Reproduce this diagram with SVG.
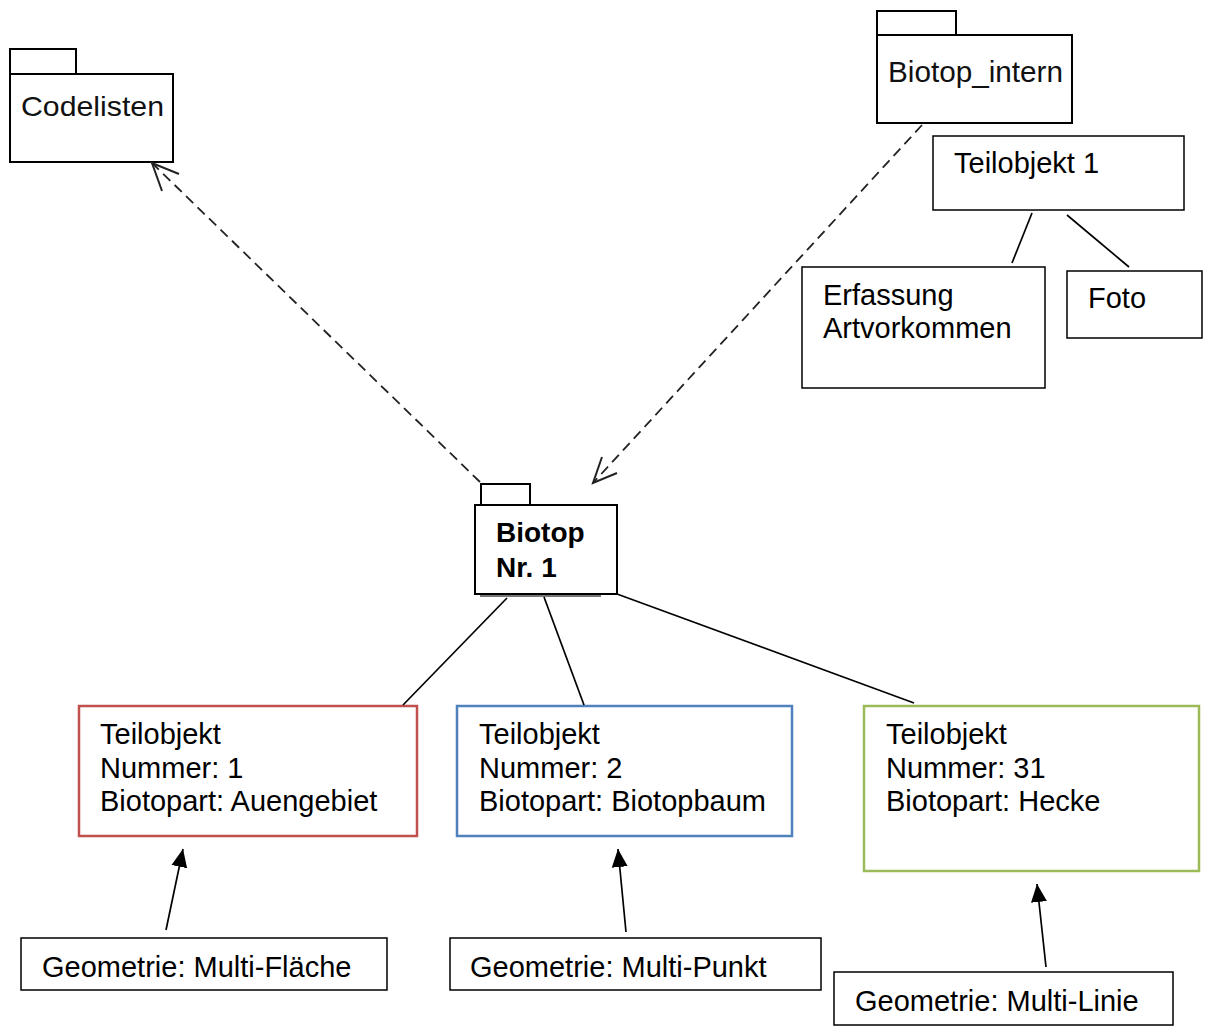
<svg xmlns="http://www.w3.org/2000/svg" width="1208" height="1035" viewBox="0 0 1208 1035">
<defs>
<style>
.box{fill:#fff;stroke:#000;stroke-width:1.5}
.pkg{fill:#fff;stroke:#000;stroke-width:2}
.t{font-family:"Liberation Sans",Arial,sans-serif;font-size:29px;fill:#000}
.b{font-weight:bold;font-size:28px}
.p{font-family:"Liberation Sans",Arial,sans-serif;fill:#111}
.dash{fill:none;stroke:#222;stroke-width:1.8;stroke-dasharray:10 6}
.head{fill:none;stroke:#222;stroke-width:2}
.ln{fill:none;stroke:#000;stroke-width:1.7}
</style>
<marker id="tri" markerUnits="userSpaceOnUse" markerWidth="20" markerHeight="18" refX="18" refY="9" orient="auto">
<path d="M0,1 L18,9 L0,17 Z" fill="#000"/>
</marker>
</defs>
<rect width="1208" height="1035" fill="#fff"/>

<g id="codelisten">
<rect class="pkg" x="10" y="49" width="66" height="25"/>
<rect class="pkg" x="10" y="74" width="163" height="88"/>
<text class="p" x="21" y="116" font-size="28" textLength="143" lengthAdjust="spacingAndGlyphs">Codelisten</text>
</g>

<g id="biotop_intern">
<rect class="pkg" x="877" y="11" width="79" height="24"/>
<rect class="pkg" x="877" y="35" width="195" height="88"/>
<text class="p" x="888" y="82" font-size="30" textLength="175" lengthAdjust="spacingAndGlyphs">Biotop_intern</text>
</g>

<g id="teilobjekt1">
<rect class="box" x="933" y="136" width="251" height="74"/>
<text class="t" x="954" y="173">Teilobjekt 1</text>
</g>

<g id="erfassung">
<rect class="box" x="802" y="267" width="243" height="121"/>
<text class="t" x="823" y="305">Erfassung</text>
<text class="t" x="823" y="338">Artvorkommen</text>
</g>

<g id="foto">
<rect class="box" x="1067" y="271" width="135" height="67"/>
<text class="t" x="1088" y="308">Foto</text>
</g>

<g id="biotop">
<line x1="480" y1="596" x2="601" y2="596" stroke="#777" stroke-width="2"/>
<rect class="pkg" x="481" y="484" width="49" height="21"/>
<rect class="pkg" x="475" y="505" width="142" height="89"/>
<text class="t b" x="496" y="542">Biotop</text>
<text class="t b" x="496" y="577">Nr. 1</text>
</g>

<g id="teil_1">
<rect x="79" y="706" width="338" height="130" fill="#fff" stroke="#c0504d" stroke-width="2.5"/>
<text class="t" x="100" y="744">Teilobjekt</text>
<text class="t" x="100" y="778">Nummer: 1</text>
<text class="t" x="100" y="811">Biotopart: Auengebiet</text>
</g>

<g id="teil_2">
<rect x="457" y="706" width="335" height="130" fill="#fff" stroke="#4f81bd" stroke-width="2.5"/>
<text class="t" x="479" y="744">Teilobjekt</text>
<text class="t" x="479" y="778">Nummer: 2</text>
<text class="t" x="479" y="811">Biotopart: Biotopbaum</text>
</g>

<g id="teil_31">
<rect x="864" y="706" width="335" height="165" fill="#fff" stroke="#9bbb59" stroke-width="2.5"/>
<text class="t" x="886" y="744">Teilobjekt</text>
<text class="t" x="886" y="778">Nummer: 31</text>
<text class="t" x="886" y="811">Biotopart: Hecke</text>
</g>

<g id="geo_flaeche">
<rect class="box" x="21" y="938" width="366" height="52"/>
<text class="t" x="42" y="977">Geometrie: Multi-Fläche</text>
</g>

<g id="geo_punkt">
<rect class="box" x="450" y="938" width="371" height="52"/>
<text class="t" x="470" y="977">Geometrie: Multi-Punkt</text>
</g>

<g id="geo_linie">
<rect class="box" x="834" y="972" width="339" height="53"/>
<text class="t" x="855" y="1011">Geometrie: Multi-Linie</text>
</g>

<g id="connectors">
<path class="dash" d="M480,482 L152,163"/>
<path class="head" d="M179,174 L152,163 L162,191"/>
<path class="dash" d="M922,125 L593,483"/>
<path class="head" d="M602,457 L593,483 L617,473"/>
<line class="ln" x1="1032" y1="213" x2="1012" y2="263"/>
<line class="ln" x1="1067" y1="215" x2="1129" y2="267"/>
<line class="ln" x1="507" y1="598" x2="403" y2="705"/>
<line class="ln" x1="544" y1="597" x2="584" y2="705"/>
<line class="ln" x1="617" y1="594" x2="914" y2="703"/>
<line class="ln" x1="166" y1="930" x2="183" y2="849" marker-end="url(#tri)"/>
<line class="ln" x1="626" y1="932" x2="618" y2="849" marker-end="url(#tri)"/>
<line class="ln" x1="1046" y1="967" x2="1037" y2="884" marker-end="url(#tri)"/>
</g>
</svg>
